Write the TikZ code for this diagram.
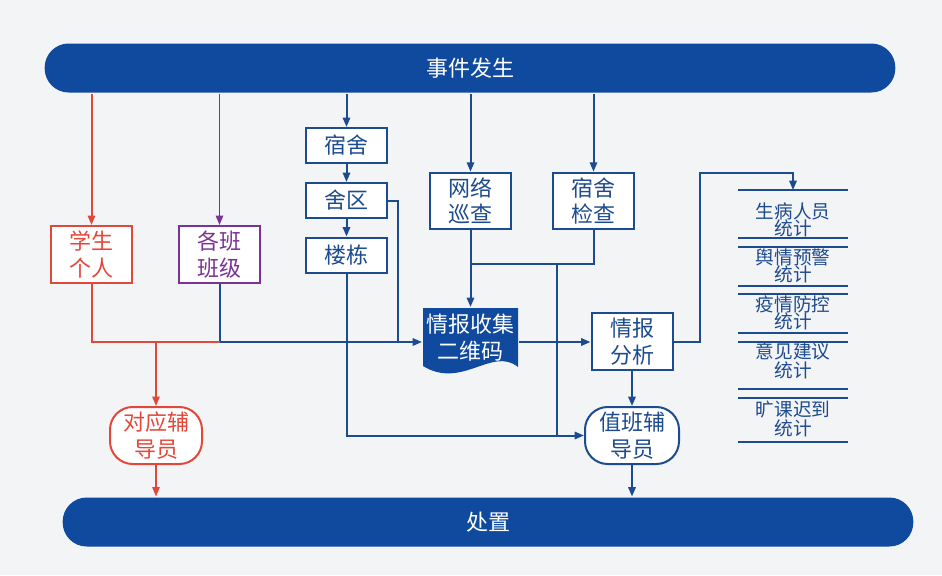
\documentclass[tikz,border=0pt]{standalone}
\usepackage{fontspec}
\setmainfont{Noto Sans CJK SC}
\usetikzlibrary{arrows.meta}
\definecolor{navy}{HTML}{1D4B8F}
\definecolor{barblue}{HTML}{0F4A9F}
\definecolor{redline}{HTML}{E2483A}
\definecolor{purpleline}{HTML}{7B3196}
\definecolor{paper}{HTML}{F3F4F6}

\begin{document}
\begin{tikzpicture}[x=0.75pt,y=-0.75pt,line width=1.5pt,
	>={Triangle[length=7pt,width=5.5pt]},
	bar/.style={fill=barblue,text=white,rounded corners=18pt,minimum width=638pt,minimum height=36.75pt,font=\fontsize{16.5}{20}\selectfont},
	box/.style={draw,fill=white,align=center,inner sep=0pt,minimum width=60.75pt,font=\fontsize{16.5}{20}\selectfont},
	bluebox/.style={box,draw=navy,text=navy},
	redbox/.style={box,draw=redline,text=redline,minimum height=42.75pt},
	purplebox/.style={box,draw=purpleline,text=purpleline,minimum height=42.75pt},
	tallbox/.style={bluebox,minimum height=42.5pt},
	flatbox/.style={bluebox,minimum height=26.25pt},
	tutor/.style={box,rounded corners=17pt,minimum height=42.75pt},
	doctext/.style={text=white,align=center,inner sep=0pt,minimum width=71.25pt,minimum height=44.25pt,font=\fontsize{16.5}{20}\selectfont},
	stat/.style={text=navy,align=center,inner sep=0pt,font=\fontsize{14}{13}\selectfont}]
	\useasboundingbox (0,0) rectangle (942,575);
	\fill[paper] (0,0) rectangle (942,575);
	% bars
	\node[bar] (top) at (470,68) {事件发生};
	\node[bar] (bot) at (488,522) {处置};
	% sources
	\node[redbox] (xs) at (91.5,254.5) {学生\\个人};
	\node[purplebox] (bj) at (219.5,254.5) {各班\\班级};
	\node[flatbox] (ss) at (346.5,145.5) {宿舍};
	\node[flatbox] (sq) at (346.5,200.5) {舍区};
	\node[flatbox] (ld) at (346.5,255) {楼栋};
	\node[tallbox] (wl) at (470.5,201) {网络\\巡查};
	\node[tallbox] (jc) at (593.5,201) {宿舍\\检查};
	% collection sheet
	\fill[barblue] (423,308) -- (518,308) -- (518,367)
		.. controls (492,346) and (462,390) .. (423,366) -- cycle;
	\node[doctext] (doc) at (470.5,337.5) {情报收集\\二维码};
	\node[tallbox] (fx) at (632,341.5) {情报\\分析};
	\node[tutor,draw=navy,text=navy,minimum width=70.5pt] (zb) at (632,435.5) {值班辅\\导员};
	\node[tutor,draw=redline,text=redline,minimum width=69pt] (dy) at (156,435.5) {对应辅\\导员};
	% junctions
	\coordinate (jn) at (219.5,342);
	\coordinate (sqd) at (398,342);
	\coordinate (wj) at (470.5,264);
	\coordinate (vt) at (557,264);
	\coordinate (up) at (700,173);
	\coordinate (ln1) at (793,190);
	% red and purple paths
	\draw[redline,->] (xs.north |- top.south) -- (xs.north);
	\draw[purpleline,line width=1.1pt,->] (bj.north |- top.south) -- (bj.north);
	\draw[navy] (bj.south) -- (jn);
	\draw[redline] (xs.south) |- (jn);
	\draw[redline,line width=1.1pt,->] (dy.north |- jn) -- (dy.north);
	\draw[redline,line width=1.1pt,->] (dy.south) -- (dy.south |- bot.north);
	% blue paths
	\draw[navy,->] (ss.north |- top.south) -- (ss.north);
	\draw[navy,->] (ss) -- (sq);
	\draw[navy,->] (sq) -- (ld);
	\draw[navy,->] (wl.north |- top.south) -- (wl.north);
	\draw[navy,->] (jc.north |- top.south) -- (jc.north);
	\draw[navy] (sq.east) -| (sqd);
	\draw[navy,->] (jn) -- (doc.west |- jn);
	\draw[navy,->] (wl.south) -- (doc.north);
	\draw[navy] (jc.south) |- (wj);
	\draw[navy] (vt) -- (vt |- zb.west);
	\draw[navy,->] (ld.south) |- (zb.west);
	\draw[navy,->] (doc.east |- jn) -- (fx.west |- jn);
	\draw[navy,->] (fx.east) -| (up) -| (ln1);
	\draw[navy,->] (fx.south) -- (zb.north);
	\draw[navy,->] (zb.south) -- (zb.south |- bot.north);
	% statistics list
	\foreach \y in { 190,238,247,286,294,333,342,389,398,442 }
	\draw[navy] (738,\y) -- (848,\y);
	\foreach \i / \y / \t in { 1/220/生病人员, 2/266/舆情预警, 3/313/疫情防控, 4/361/意见建议, 5/419/旷课迟到 }
	\node[stat] (st\i) at (793,\y) {\t\\统计};
\end{tikzpicture}
\end{document}
